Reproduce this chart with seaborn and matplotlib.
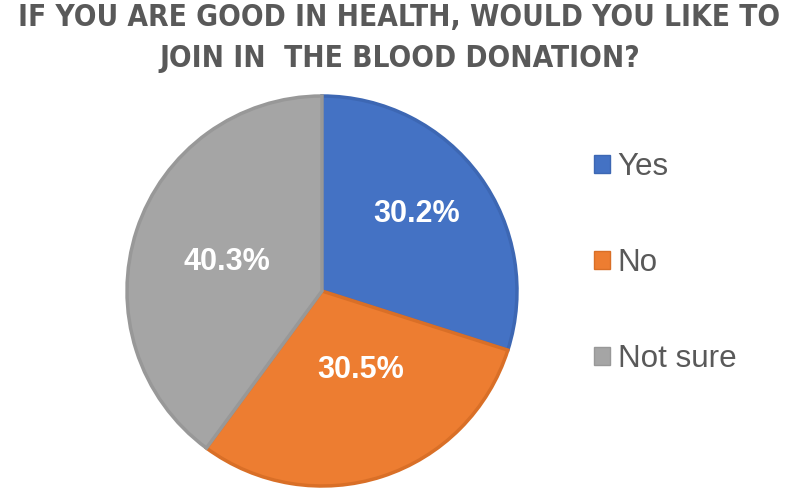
import matplotlib
matplotlib.use("Agg")
import matplotlib.pyplot as plt
import seaborn as sns
from matplotlib.patches import Patch
import numpy as np

categories = ["Yes", "No", "Not sure"]
values = [30.2, 30.5, 40.3]
label_texts = ["30.2%", "30.5%", "40.3%"]
title = "IF YOU ARE GOOD IN HEALTH, WOULD YOU LIKE TO\nJOIN IN  THE BLOOD DONATION?"

colors = ["#4472C4", "#ED7D31", "#A5A5A5"]
edge_colors = ["#3D67B3", "#D96F27", "#989898"]
label_dist = [0.625, 0.45, 0.51]
label_rot = [3, 8, 1]

sns.set_theme(style="white")
plt.rcParams["font.family"] = ["Liberation Sans", "DejaVu Sans"]

fig = plt.figure(figsize=(7.99, 4.98), dpi=100)
ax = fig.add_axes([127 / 799, 12 / 498, 390 / 799, 390 / 498])

wedges, _ = ax.pie(values, colors=colors, startangle=90, counterclock=False,
                   radius=1.0)
for w, ec in zip(wedges, edge_colors):
    w.set_edgecolor(ec)
    w.set_linewidth(2.5)
    w.set_joinstyle("miter")

for w, txt, d, r in zip(wedges, label_texts, label_dist, label_rot):
    ang = np.deg2rad((w.theta1 + w.theta2) / 2 + r)
    ax.text(d * np.cos(ang), d * np.sin(ang), txt, ha="center", va="center",
            color="white", fontsize=22, fontweight="bold",
            family=["Liberation Sans", "DejaVu Sans"])

ax.set_xlim(-1, 1)
ax.set_ylim(-1, 1)
ax.set_aspect("equal")
ax.axis("off")

handles = [Patch(facecolor=c, edgecolor=ec, linewidth=1) for c, ec in zip(colors, edge_colors)]
leg = fig.legend(handles, categories, loc="upper left",
                 bbox_to_anchor=(594 / 799, 1 - 152 / 498),
                 frameon=False, fontsize=22.6, handlelength=0.5, handleheight=0.5,
                 handletextpad=0.25, labelspacing=2.1, borderaxespad=0, borderpad=0)
for t in leg.get_texts():
    t.set_color("#595959")

fig.text(0.5, 1 - 38 / 498, title, ha="center", va="center", fontsize=21.3,
         fontweight="bold", color="#595959", linespacing=1.48,
         family=["DejaVu Sans"], fontstretch="condensed")

fig.savefig("out.png", dpi=100)
